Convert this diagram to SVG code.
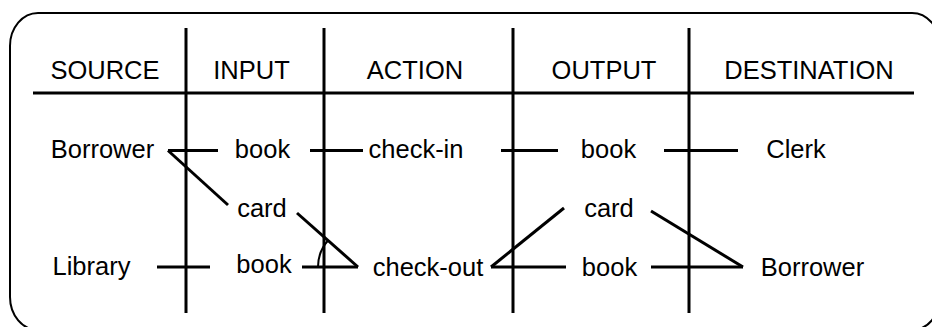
<svg xmlns="http://www.w3.org/2000/svg" width="932" height="327" viewBox="0 0 932 327">
<style>
text{font-family:"Liberation Sans",Arial,sans-serif;font-size:25.5px;fill:#000;text-anchor:middle}
.frame{fill:none;stroke:#000;stroke-width:2}
.grid line{stroke:#000;stroke-width:3}
.conn line,.conn path{stroke:#000;stroke-width:3;fill:none}
.conn .arc{stroke-width:2}
</style>
<rect width="932" height="327" fill="#fff"/>
<rect class="frame" x="10" y="13" width="930" height="317" rx="28" ry="33"/>
<g id="grid" class="grid">
<line x1="33" y1="93" x2="914" y2="93"/>
<line x1="186" y1="28" x2="186" y2="313"/>
<line x1="324" y1="28" x2="324" y2="313"/>
<line x1="513" y1="28" x2="513" y2="313"/>
<line x1="689" y1="28" x2="689" y2="313"/>
</g>
<g id="headers">
<text x="105" y="79">SOURCE</text>
<text x="251.5" y="79">INPUT</text>
<text x="415" y="79">ACTION</text>
<text x="604" y="79">OUTPUT</text>
<text x="809" y="79">DESTINATION</text>
</g>
<g id="connectors" class="conn">
<line x1="168" y1="150.5" x2="218" y2="150.5"/>
<line x1="168" y1="150.5" x2="228" y2="205"/>
<line x1="310" y1="150.5" x2="363" y2="150.5"/>
<line x1="501" y1="150.5" x2="558" y2="150.5"/>
<line x1="664" y1="150.5" x2="738" y2="150.5"/>
<line x1="297" y1="213" x2="358" y2="267"/>
<line x1="157" y1="267" x2="210" y2="267"/>
<line x1="302" y1="267" x2="358" y2="267"/>
<path class="arc" d="M318 267 A40 40 0 0 1 328 240.5"/>
<line x1="491" y1="267" x2="566" y2="267"/>
<line x1="491" y1="267" x2="564" y2="208"/>
<line x1="651" y1="267" x2="743" y2="267"/>
<line x1="651" y1="211" x2="743" y2="267"/>
</g>
<g id="source-borrower"><text x="102.5" y="158">Borrower</text></g>
<g id="input-book-1"><text x="262.5" y="158">book</text></g>
<g id="action-checkin"><text x="416" y="158">check-in</text></g>
<g id="output-book-1"><text x="608.5" y="158">book</text></g>
<g id="dest-clerk"><text x="796" y="158">Clerk</text></g>
<g id="input-card"><text x="262" y="217">card</text></g>
<g id="output-card"><text x="609" y="217">card</text></g>
<g id="source-library"><text x="91.5" y="275">Library</text></g>
<g id="input-book-2"><text x="264" y="273">book</text></g>
<g id="action-checkout"><text x="428" y="276">check-out</text></g>
<g id="output-book-2"><text x="609.5" y="276">book</text></g>
<g id="dest-borrower"><text x="812.5" y="276">Borrower</text></g>
</svg>
